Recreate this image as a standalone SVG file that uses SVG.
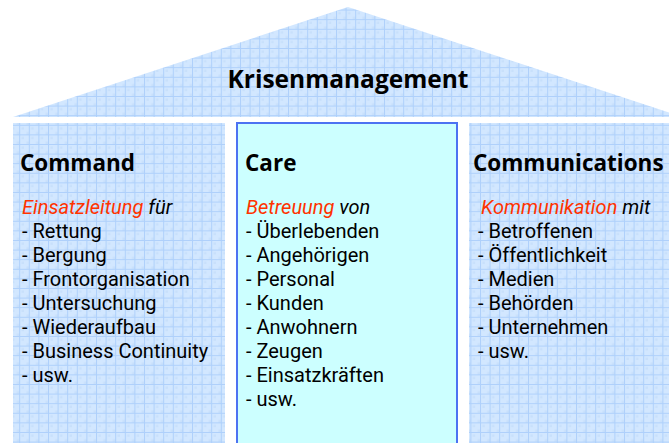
<svg xmlns="http://www.w3.org/2000/svg" width="669" height="443" viewBox="0 0 669 443">
<style>
text{font-family:"Open Sans","Noto Sans","DejaVu Sans",sans-serif;fill:#000}
.h{font-size:22.5px;font-weight:bold}
.t{font-size:24.5px;font-weight:bold}
.b{font-family:Roboto,"Liberation Sans",sans-serif;font-size:20px}
.i{font-style:italic}
.r{fill:#ff3300}
</style>
<defs>
<pattern id="grid" width="9.6" height="9.6" patternUnits="userSpaceOnUse">
<rect width="9.6" height="9.6" fill="#d2e7ff"/>
<rect x="2.4" y="2.4" width="2.4" height="2.4" fill="#c8e0fb"/>
<rect x="7.2" y="7.2" width="2.4" height="2.4" fill="#c8e0fb"/>
<path d="M0 0.5H9.6M0.5 0V9.6" stroke="#aed0fb" stroke-width="1"/>
</pattern>
</defs>
<g id="roof">
<polygon points="13,117 348,7 683,117" fill="url(#grid)"/>
<text class="t" x="348" y="88" text-anchor="middle">Krisenmanagement</text>
</g>
<g id="command">
<rect x="13" y="123" width="212" height="330" fill="url(#grid)"/>
<text class="h" x="20" y="171">Command</text>
<text class="b" x="22" y="214"><tspan class="i r">Einsatzleitung</tspan><tspan class="i"> für</tspan></text>
<text class="b" x="22" y="238">- Rettung</text>
<text class="b" x="22" y="262">- Bergung</text>
<text class="b" x="22" y="286">- Frontorganisation</text>
<text class="b" x="22" y="310">- Untersuchung</text>
<text class="b" x="22" y="334">- Wiederaufbau</text>
<text class="b" x="22" y="358">- Business Continuity</text>
<text class="b" x="22" y="382">- usw.</text>
</g>
<g id="care">
<rect x="237" y="123" width="220" height="330" fill="#ccffff" stroke="#4d72f2" stroke-width="2"/>
<text class="h" x="245" y="171">Care</text>
<text class="b" x="246" y="214"><tspan class="i r">Betreuung</tspan><tspan class="i"> von</tspan></text>
<text class="b" x="246" y="238">- Überlebenden</text>
<text class="b" x="246" y="262">- Angehörigen</text>
<text class="b" x="246" y="286">- Personal</text>
<text class="b" x="246" y="310">- Kunden</text>
<text class="b" x="246" y="334">- Anwohnern</text>
<text class="b" x="246" y="358">- Zeugen</text>
<text class="b" x="246" y="382">- Einsatzkräften</text>
<text class="b" x="246" y="406">- usw.</text>
</g>
<g id="communications">
<rect x="469" y="123" width="210" height="330" fill="url(#grid)"/>
<text class="h" x="473" y="171">Communications</text>
<text class="b" x="481" y="214"><tspan class="i r">Kommunikation</tspan><tspan class="i"> mit</tspan></text>
<text class="b" x="478" y="238">- Betroffenen</text>
<text class="b" x="478" y="262">- Öffentlichkeit</text>
<text class="b" x="478" y="286">- Medien</text>
<text class="b" x="478" y="310">- Behörden</text>
<text class="b" x="478" y="334">- Unternehmen</text>
<text class="b" x="478" y="358">- usw.</text>
</g>
<g id="connectors"/>
</svg>
